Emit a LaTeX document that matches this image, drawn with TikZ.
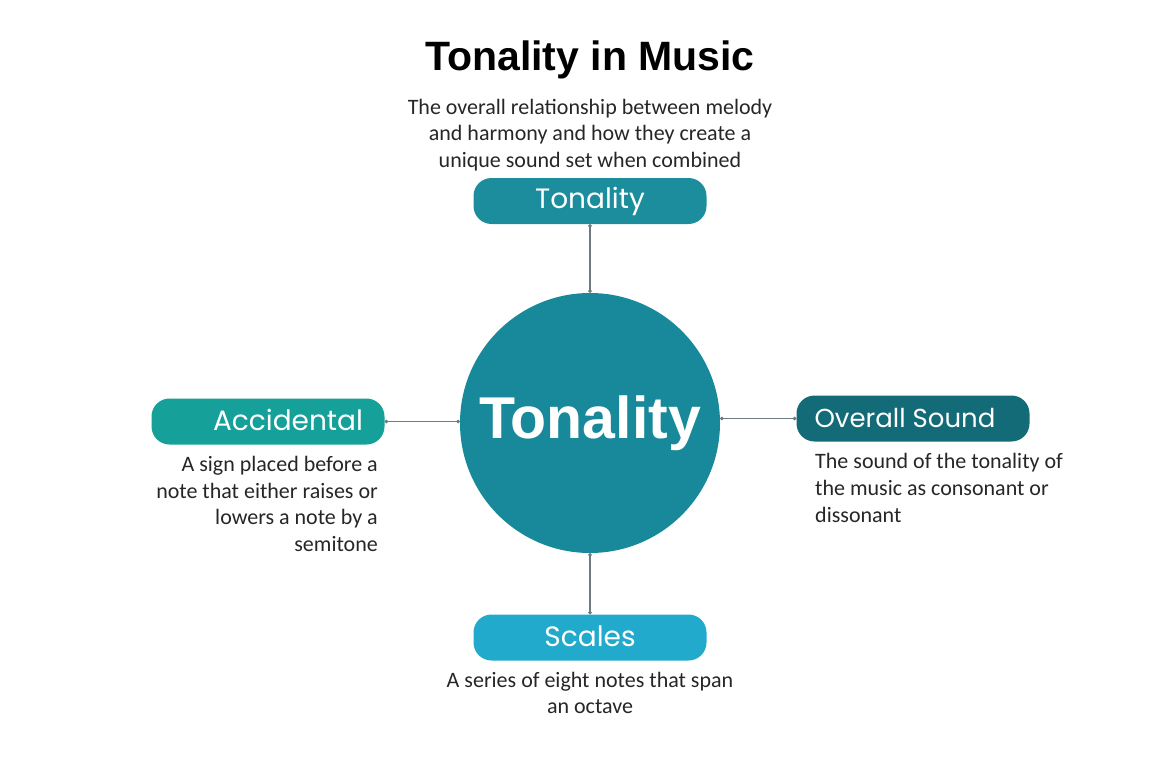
\documentclass[tikz,border=0pt]{standalone}
\usepackage{fontspec}
\setmainfont{Carlito}
\newfontfamily\titlefont{Liberation Sans}
\newfontfamily\boxfont{Poppins}
\usetikzlibrary{arrows.meta}
\definecolor{topc}{HTML}{1C8D9C}
\definecolor{circc}{HTML}{18899A}
\definecolor{leftc}{HTML}{16A09A}
\definecolor{rightc}{HTML}{136B78}
\definecolor{botc}{HTML}{21AACB}
\definecolor{linec}{HTML}{6B7B80}
\begin{document}
\begin{tikzpicture}[x=1pt,y=-1pt,
  pill/.style={rounded corners=18pt,minimum width=233pt,minimum height=46pt,inner sep=0pt,text=white,font=\boxfont\fontsize{28}{32}\selectfont},
  desc/.style={font=\fontsize{22}{26.7}\selectfont,text=black!85,inner sep=0pt},
  conn/.style={draw=linec,line width=1.2pt,{Circle[length=3.5pt]}-{Circle[length=3.5pt]}}]
\useasboundingbox (0,0) rectangle (1170,781);
\node[font=\titlefont\bfseries\fontsize{41}{48}\selectfont,inner sep=0pt] (title) at (590,60) {Tonality in Music};
\node[desc,align=center] (topdesc) at (590,135) {The overall relationship between melody\\and harmony and how they create a\\unique sound set when combined};
\node[pill,fill=topc] (top) at (590,201) {\raisebox{3pt}{Tonality}};
\node[circle,fill=circc,minimum size=260pt,inner sep=0pt,text=white,font=\titlefont\bfseries\fontsize{59}{60}\selectfont] (c) at (590,423) {\raisebox{-9pt}{Tonality}};
\node[pill,fill=leftc] (left) at (268,421.5) {\hspace*{40pt}\raisebox{3pt}{Accidental}};
\node[desc,align=right,anchor=east] (leftdesc) at (378,504) {A sign placed before a\\note that either raises or\\lowers a note by a\\semitone};
\node[pill,fill=rightc,font=\boxfont\fontsize{26}{30}\selectfont] (right) at (913,418.5) {\hspace*{-16pt}\raisebox{2pt}{Overall Sound}};
\node[desc,align=left,anchor=west] (rightdesc) at (815,488) {The sound of the tonality of\\the music as consonant or\\dissonant};
\node[pill,fill=botc] (bot) at (590,637.5) {\raisebox{3pt}{Scales}};
\node[desc,align=center] (botdesc) at (590,693) {A series of eight notes that span\\an octave};
\draw[conn] (top.south) -- (c.north);
\draw[conn] (c.south) -- (bot.north);
\draw[conn] (c.west |- left.east) -- (left.east);
\draw[conn] (c.east |- right.west) -- (right.west);
\end{tikzpicture}
\end{document}
